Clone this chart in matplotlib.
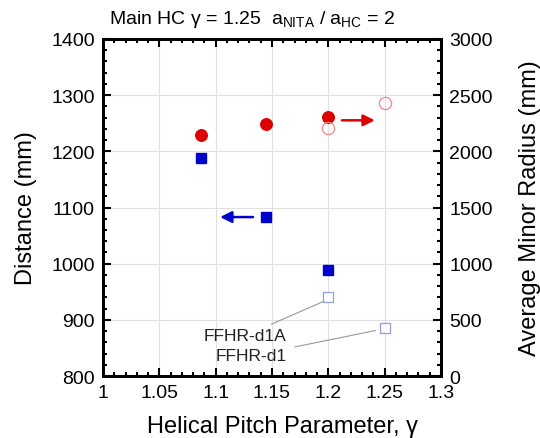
import matplotlib
matplotlib.use("Agg")
import matplotlib.pyplot as plt
from matplotlib.ticker import MultipleLocator

plt.rcParams['font.family'] = ['Liberation Sans', 'DejaVu Sans']
plt.rcParams['mathtext.default'] = 'regular'

# helical pitch parameter
gamma_dist = [1.087, 1.145, 1.2]
dist = [1188, 1083, 989]          # distance (mm), filled squares
gamma_ffhr = [1.2, 1.25]
dist_ffhr = [941, 885]            # FFHR-d1A, FFHR-d1

gamma_rad = [1.087, 1.145, 1.2]
radius = [2148, 2241, 2308]       # average minor radius (mm), filled circles
radius_ffhr = [2208, 2430]

fig = plt.figure(figsize=(5.4, 4.39), dpi=100)
ax = fig.add_axes([0.1907, 0.1412, 0.626, 0.7677])
ax2 = ax.twinx()

ax.set_xlim(1, 1.3)
ax.set_ylim(800, 1400)
ax2.set_ylim(0, 3000)

ax.grid(True, color='#e0e0e0', lw=0.8)
ax.set_axisbelow(True)

ax.plot(gamma_dist, dist, 's', color='#0000cc', ms=7, zorder=3)
ax.plot(gamma_ffhr, dist_ffhr, 's', mfc='white', mec='#9999dd', mew=0.9, ms=7.5, zorder=3)
ax2.plot(gamma_rad, radius, 'o', color='#dd0000', ms=8.3, zorder=3)
ax2.plot(gamma_ffhr, radius_ffhr, 'o', mfc='none', mec='#ee8888', mew=0.9, ms=8.8, zorder=3)

# arrows pointing to each axis
ax2.annotate('', xy=(1.2437, 2276), xytext=(1.2096, 2276),
             arrowprops=dict(arrowstyle='-|>', color='#dd0000', lw=1.8, mutation_scale=17))
ax.annotate('', xy=(1.1015, 1083), xytext=(1.1356, 1083),
            arrowprops=dict(arrowstyle='-|>', color='#0000cc', lw=1.8, mutation_scale=17))

ax.annotate('FFHR-d1A', xy=(gamma_ffhr[0] - 0.004, dist_ffhr[0] - 8), xytext=(1.163, 872),
            ha='right', va='center', fontsize=12.5, color='#222222',
            arrowprops=dict(arrowstyle='-', color='#999999', lw=0.8, shrinkA=2, shrinkB=0))
ax.annotate('FFHR-d1', xy=(gamma_ffhr[1] - 0.008, dist_ffhr[1] - 4), xytext=(1.163, 836),
            ha='right', va='center', fontsize=12.5, color='#222222',
            arrowprops=dict(arrowstyle='-', color='#999999', lw=0.8, shrinkA=4, shrinkB=0))

ax.set_xticks([1, 1.05, 1.1, 1.15, 1.2, 1.25, 1.3])
ax.set_xticklabels(['1', '1.05', '1.1', '1.15', '1.2', '1.25', '1.3'])
ax.xaxis.set_minor_locator(MultipleLocator(0.01))
ax.yaxis.set_major_locator(MultipleLocator(100))
ax.yaxis.set_minor_locator(MultipleLocator(20))
ax2.yaxis.set_major_locator(MultipleLocator(500))
ax2.yaxis.set_minor_locator(MultipleLocator(100))

ax.tick_params(which='both', direction='in', top=True, labelsize=14, width=1.5, pad=6)
ax.tick_params(which='major', length=6)
ax.tick_params(which='minor', length=3)
ax2.tick_params(which='both', direction='in', labelsize=14, width=1.5, pad=6)
ax2.tick_params(which='major', length=6)
ax2.tick_params(which='minor', length=3)

for sp in ax.spines.values():
    sp.set_linewidth(2)
for sp in ax2.spines.values():
    sp.set_linewidth(2)

ax.set_xlabel('Helical Pitch Parameter, γ', fontsize=17, labelpad=10)
ax.xaxis.label.set_x(0.53)
ax.set_ylabel('Distance (mm)', fontsize=17, labelpad=10)
ax2.set_ylabel('Average Minor Radius (mm)', fontsize=17, labelpad=19)

fig.text(252 / 540, 1 - 20 / 439, 'Main HC γ = 1.25  a$_{NITA}$ / a$_{HC}$ = 2',
         ha='center', va='center', fontsize=14)

fig.savefig('out.png', dpi=100)
